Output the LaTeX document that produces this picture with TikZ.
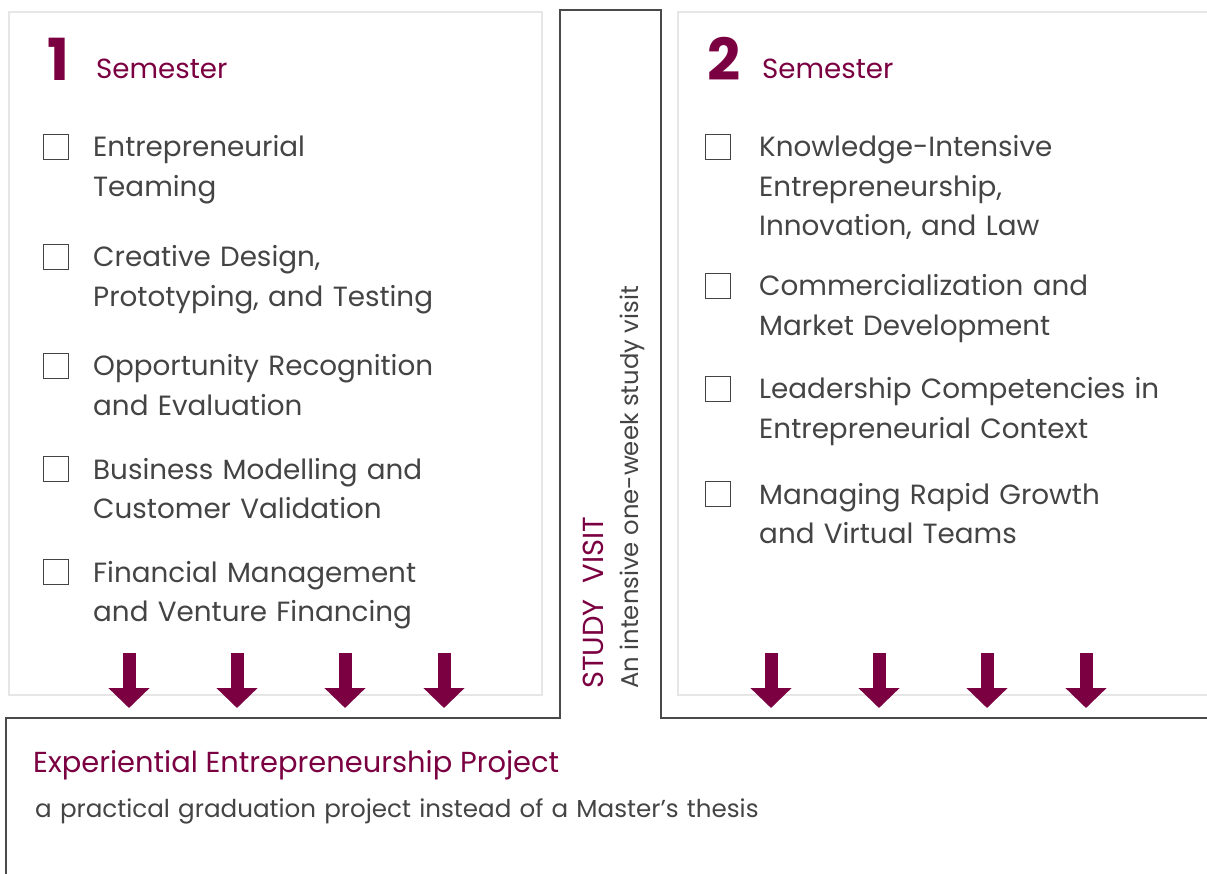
\documentclass[tikz,border=0pt]{standalone}
\usepackage{xcolor}
\usepackage{fontspec}
\setmainfont{Poppins}
\usepackage{tikz}
\usetikzlibrary{positioning,arrows.meta}

\definecolor{maroon}{HTML}{7B0041}
\definecolor{textgray}{HTML}{444444}
\definecolor{linegray}{HTML}{4A4A4A}
\definecolor{boxgray}{HTML}{E6E6E6}

\begin{document}
\begin{tikzpicture}[x=1pt, y=-1pt, >=Stealth]
\tikzstyle{panel}=[
    draw=boxgray, line width=2pt,
    anchor=north west, inner sep=0pt
]
\tikzstyle{item}=[
    anchor=base west, inner sep=0pt,
    text width=440pt, align=left,
    text=textgray, font=\fontsize{27.8}{39.5}\selectfont
]
\tikzstyle{chk}=[draw=textgray, line width=1.6pt, minimum size=25pt, inner sep=0pt]
\tikzstyle{num}=[anchor=base west, inner sep=0pt, text=maroon, font=\fontsize{58}{58}\selectfont\bfseries]
\tikzstyle{head}=[anchor=base west, inner sep=0pt, text=maroon, font=\fontsize{27.7}{30}\selectfont]
\tikzstyle{side}=[anchor=base west, inner sep=0pt, rotate=90]
\tikzstyle{bigarrow}=[draw=maroon, line width=13pt, -{Triangle[width=40pt, length=20pt]}]

\useasboundingbox (0,0) rectangle (1207,874);

% semester panels
\node[panel, minimum width=533pt, minimum height=683pt] (sem1) at (8,11) {};
\node[panel, minimum width=560pt, minimum height=683pt] (sem2) at (677,11) {};

% outline of study visit and project
\draw[linegray, line width=2pt] (6,890) -- (6,718) -- (560,718) -- (560,10)
    -- (661,10) -- (661,718) -- (1230,718);

% semester 1
\node[num] (n1) at (47,81) {1};
\node[head] (h1) at (96,79) {Semester};
\node[item] (t11) at (93,157) {Entrepreneurial\\Teaming};
\node[item] (t12) at (93,267) {Creative Design,\\Prototyping, and Testing};
\node[item] (t13) at (93,376) {Opportunity Recognition\\and Evaluation};
\node[item] (t14) at (93,479) {Business Modelling and\\Customer Validation};
\node[item] (t15) at (93,582) {Financial Management\\and Venture Financing};
\foreach \t in {t11,t12,t13,t14,t15}
  \node[chk, xshift=-37pt, yshift=10pt] at (\t.base west) {};

% semester 2
\node[num] (n2) at (707,81) {2};
\node[head] (h2) at (762,79) {Semester};
\node[item] (t21) at (759,157) {Knowledge-Intensive\\Entrepreneurship,\\Innovation, and Law};
\node[item] (t22) at (759,296) {Commercialization and\\Market Development};
\node[item] (t23) at (759,399) {Leadership Competencies in\\Entrepreneurial Context};
\node[item] (t24) at (759,504) {Managing Rapid Growth\\and Virtual Teams};
\foreach \t in {t21,t22,t23,t24}
  \node[chk, xshift=-41pt, yshift=10pt] at (\t.base west) {};

% study visit
\node[side, text=maroon, font=\fontsize{29}{30}\selectfont] (visit) at (603,689) {STUDY\ \ VISIT};
\node[side, text=textgray, font=\fontsize{24.3}{30}\selectfont] (visitsub) at (638,689) {An intensive one-week study visit};

% arrows into the project
\foreach \x [count=\i] in {129,237,345,444,771,879,987,1086} {
  \coordinate (a\i) at (\x,653);
  \coordinate (b\i) at (\x,708);
  \draw[bigarrow] (a\i) -- (b\i);
}

% project
\node[head, font=\fontsize{28.9}{30}\selectfont] (proj) at (33,772) {Experiential Entrepreneurship Project};
\node[item, text width=800pt, font=\fontsize{24.6}{30}\selectfont] (projsub) at (35,817) {a practical graduation project instead of a Master’s thesis};
\end{tikzpicture}
\end{document}
